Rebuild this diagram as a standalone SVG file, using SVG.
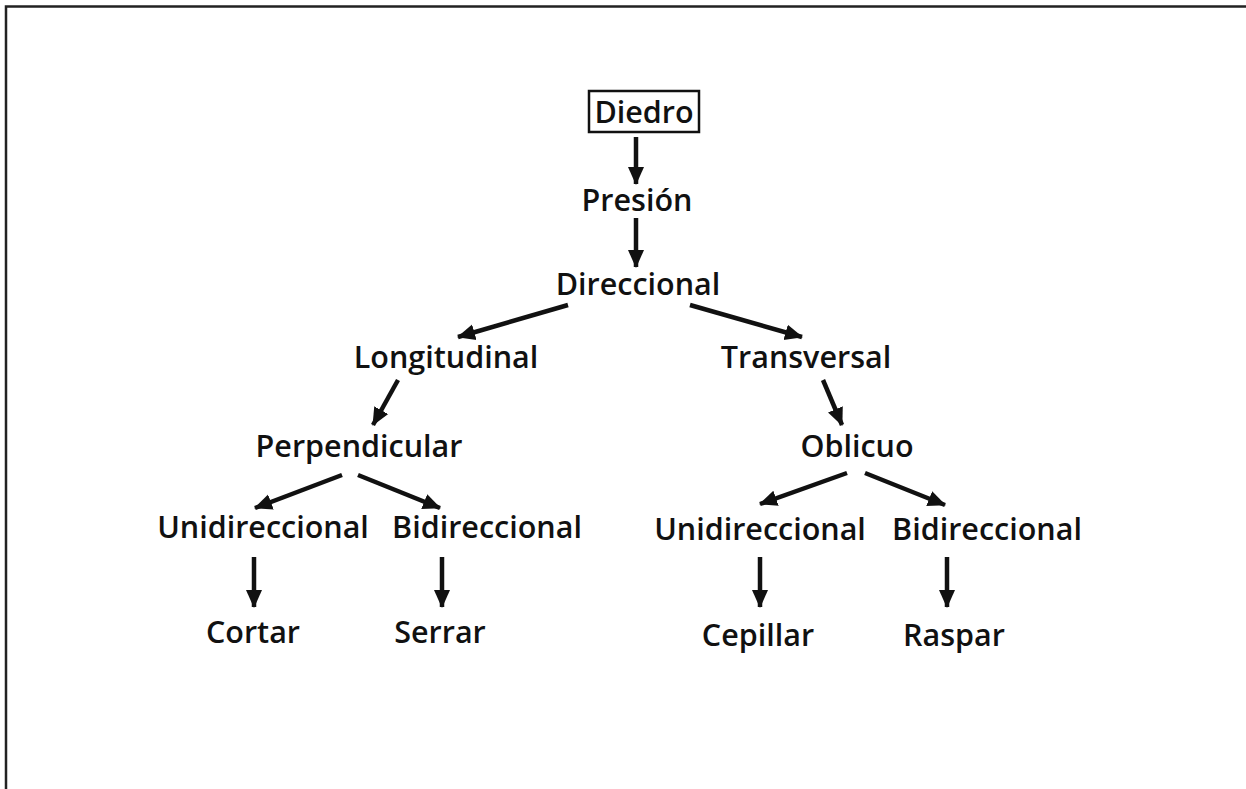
<svg xmlns="http://www.w3.org/2000/svg" width="1246" height="789" viewBox="0 0 1246 789">
<style>
  text { font-family: "Open Sans", "Noto Sans", "Liberation Sans", sans-serif; font-weight: 600; font-size: 30.5px; fill: #111; text-anchor: middle; }
  .c { stroke: #111; stroke-width: 4.5; fill: none; marker-end: url(#ah); }
  .frame { stroke: #222; stroke-width: 2.5; fill: none; }
</style>
<defs>
  <marker id="ah" markerUnits="userSpaceOnUse" markerWidth="18" markerHeight="18" viewBox="0 0 18 18" refX="17" refY="9" orient="auto">
    <path d="M0,1 L18,9 L0,17 Z" fill="#111"/>
  </marker>
</defs>
<rect width="1246" height="789" fill="#fff"/>
<path class="frame" d="M6,789 V6.5 H1246"/>
<g id="connectors">
  <line class="c" x1="636" y1="137" x2="636" y2="184"/>
  <line class="c" x1="636" y1="218" x2="636" y2="267"/>
  <line class="c" x1="568" y1="305" x2="458" y2="337"/>
  <line class="c" x1="690" y1="305" x2="802" y2="337"/>
  <line class="c" x1="398" y1="380" x2="373" y2="425"/>
  <line class="c" x1="823" y1="380" x2="842" y2="425"/>
  <line class="c" x1="342" y1="475" x2="255" y2="508"/>
  <line class="c" x1="358" y1="475" x2="440" y2="508"/>
  <line class="c" x1="847" y1="473" x2="760" y2="504"/>
  <line class="c" x1="865" y1="473" x2="945" y2="505"/>
  <line class="c" x1="254" y1="557" x2="254" y2="607"/>
  <line class="c" x1="442" y1="557" x2="442" y2="607"/>
  <line class="c" x1="760" y1="557" x2="760" y2="607"/>
  <line class="c" x1="947" y1="557" x2="947" y2="607"/>
</g>
<g id="diedro"><rect x="589" y="91" width="110" height="41" fill="none" stroke="#111" stroke-width="2.5"/><text x="644" y="123">Diedro</text></g>
<g id="presion"><text x="637" y="211">Presión</text></g>
<g id="direccional"><text x="638" y="295">Direccional</text></g>
<g id="longitudinal"><text x="446" y="368">Longitudinal</text></g>
<g id="transversal"><text x="806" y="368">Transversal</text></g>
<g id="perpendicular"><text x="359" y="457">Perpendicular</text></g>
<g id="oblicuo"><text x="857" y="457">Oblicuo</text></g>
<g id="uni1"><text x="263" y="538">Unidireccional</text></g>
<g id="bi1"><text x="487" y="538">Bidireccional</text></g>
<g id="uni2"><text x="760" y="540">Unidireccional</text></g>
<g id="bi2"><text x="987" y="540">Bidireccional</text></g>
<g id="cortar"><text x="253" y="643">Cortar</text></g>
<g id="serrar"><text x="440" y="643">Serrar</text></g>
<g id="cepillar"><text x="758" y="646">Cepillar</text></g>
<g id="raspar"><text x="954" y="646">Raspar</text></g>
</svg>
